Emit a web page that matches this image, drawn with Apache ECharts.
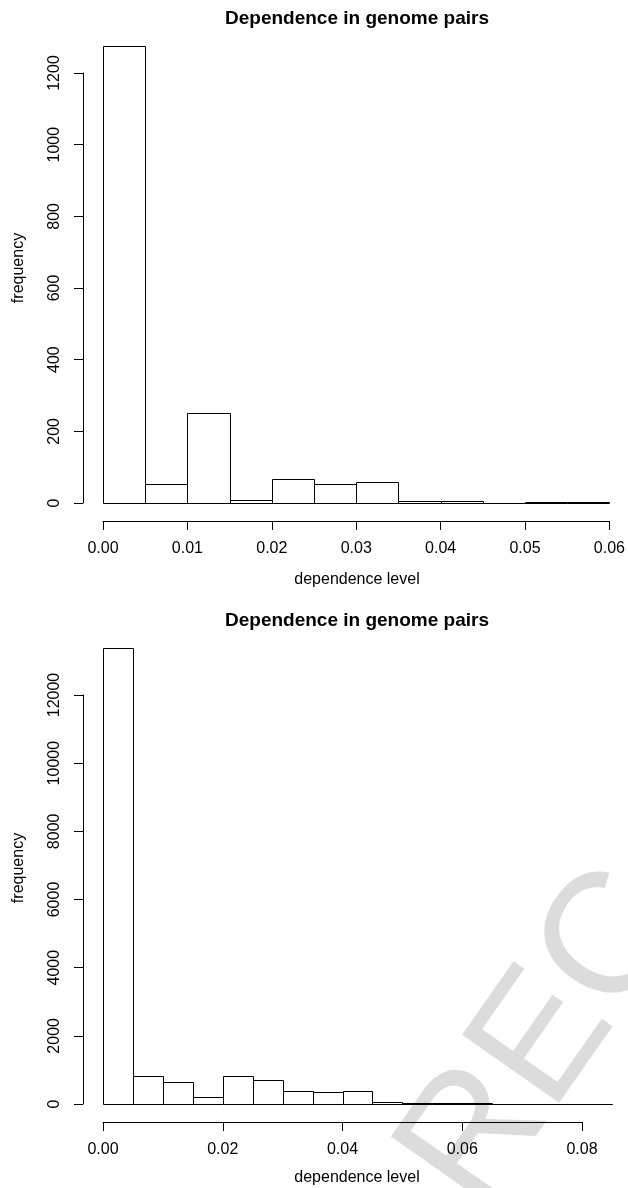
<!DOCTYPE html>
<html><head><meta charset="utf-8">
<script src="https://cdn.jsdelivr.net/npm/echarts@6/dist/echarts.min.js"></script>
<style>html,body{margin:0;padding:0;background:#fff}#c{width:628px;height:1188px}</style>
</head><body><div id="c"></div>
<script>
// ---- data ----
const binWidth = 0.005;
const topCounts = [1276, 54, 251, 8, 66, 53, 59, 6, 6, 1, 3, 3];
const bottomCounts = [13368, 835, 653, 191, 824, 694, 372, 362, 392, 60, 20, 30, 20, 10, 5, 3, 2];
const titleText = 'Dependence in genome pairs';
const xName = 'dependence level';
const yName = 'frequency';
const watermarkText = 'REC';
const topXRange = [0, 0.06, 0.01];
const topYRange = [0, 1200, 200];
const bottomXRange = [0, 0.08, 0.02];
const bottomYRange = [0, 12000, 2000];

function toBins(counts) {
  return counts.map((c, i) => [i * binWidth, (i + 1) * binWidth, c]);
}

const FONT = 'Liberation Sans, Arial, Helvetica, sans-serif';

function renderBar(params, api) {
  const x0 = api.value(0), x1 = api.value(1), c = api.value(2);
  const p0 = api.coord([x0, 0]);
  const p1 = api.coord([x1, c]);
  return {
    type: 'rect',
    shape: { x: Math.round(p0[0]) + 0.5, y: Math.round(p1[1]) + 0.5,
             width: Math.round(p1[0]) - Math.round(p0[0]),
             height: Math.round(p0[1]) - Math.round(p1[1]) },
    style: { fill: '#fff', stroke: '#000', lineWidth: 1 }
  };
}

function xAxisOpt(gridIndex, r) {
  return {
    type: 'value', gridIndex, min: r[0], max: r[1], interval: r[2],
    offset: 18, splitLine: { show: false },
    axisLine: { show: true, onZero: false, lineStyle: { color: '#000', width: 1 } },
    axisTick: { show: true, length: 9, lineStyle: { color: '#000' } },
    axisLabel: { margin: 20, color: '#000', fontSize: 16, fontFamily: FONT,
                 formatter: v => v.toFixed(2) }
  };
}
function yAxisOpt(gridIndex, r) {
  return {
    type: 'value', gridIndex, min: r[0], max: r[1], interval: r[2],
    offset: 20, splitLine: { show: false },
    axisLine: { show: true, onZero: false, lineStyle: { color: '#000', width: 1 } },
    axisTick: { show: true, length: 9, lineStyle: { color: '#000' } },
    axisLabel: { margin: 20, rotate: 90, color: '#000', fontSize: 16, fontFamily: FONT,
                 formatter: v => String(v) }
  };
}

const chart = echarts.init(document.getElementById('c'), null, { renderer: 'canvas' });
chart.setOption({
  animation: false,
  backgroundColor: '#fff',
  grid: [
    { left: 103, top: 73, width: 509, height: 430 },
    { left: 103, top: 695, width: 479, height: 409 }
  ],
  xAxis: [xAxisOpt(0, topXRange), xAxisOpt(1, bottomXRange)],
  yAxis: [yAxisOpt(0, topYRange), yAxisOpt(1, bottomYRange)],
  series: [
    { type: 'custom', xAxisIndex: 0, yAxisIndex: 0, data: toBins(topCounts),
      renderItem: renderBar, encode: { x: [0, 1], y: 2 }, clip: false, z: 5 },
    { type: 'custom', xAxisIndex: 1, yAxisIndex: 1, data: toBins(bottomCounts),
      renderItem: renderBar, encode: { x: [0, 1], y: 2 }, clip: false, z: 5 }
  ],
  graphic: [
    { type: 'text', z: -10, silent: true,
      x: 545, y: 1040, rotation: 55 * Math.PI / 180,
      style: { text: watermarkText, fill: '#dcdcdc', font: '172px ' + FONT, align: 'center', verticalAlign: 'middle' } },
    { type: 'text', x: 357, y: 19, style: { text: titleText, fill: '#000', font: 'bold 19px ' + FONT, align: 'center', verticalAlign: 'middle' } },
    { type: 'text', x: 357, y: 621, style: { text: titleText, fill: '#000', font: 'bold 19px ' + FONT, align: 'center', verticalAlign: 'middle' } },
    { type: 'text', x: 357, y: 580, style: { text: xName, fill: '#000', font: '16px ' + FONT, align: 'center', verticalAlign: 'middle' } },
    { type: 'text', x: 357, y: 1178, style: { text: xName, fill: '#000', font: '16px ' + FONT, align: 'center', verticalAlign: 'middle' } },
    { type: 'text', x: 19, y: 268, rotation: Math.PI / 2, style: { text: yName, fill: '#000', font: '16px ' + FONT, align: 'center', verticalAlign: 'middle' } },
    { type: 'text', x: 19, y: 868, rotation: Math.PI / 2, style: { text: yName, fill: '#000', font: '16px ' + FONT, align: 'center', verticalAlign: 'middle' } }
  ]
});
</script></body></html>
